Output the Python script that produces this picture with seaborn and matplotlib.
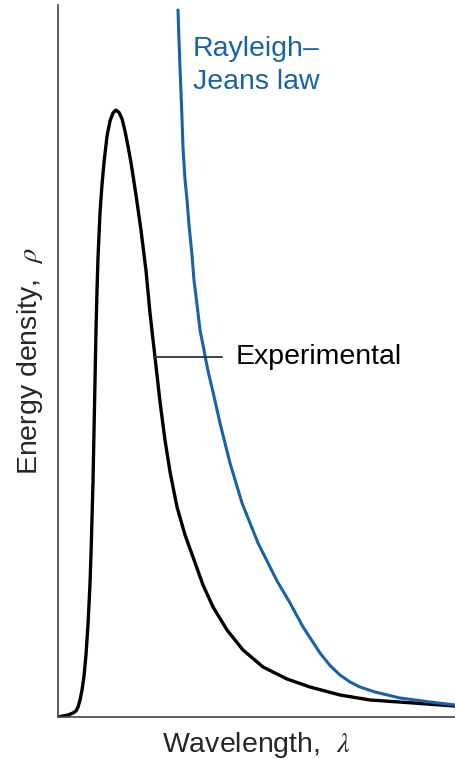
import matplotlib
matplotlib.use("Agg")
import matplotlib.pyplot as plt
import seaborn as sns
import pandas as pd

# experimental (blackbody) curve
exp_wavelength = [0.000, 0.050, 0.101, 0.151, 0.181, 0.202, 0.222, 0.242, 0.262, 0.282,
                  0.302, 0.322, 0.333, 0.343, 0.353, 0.363, 0.373, 0.383, 0.393, 0.403,
                  0.423, 0.443, 0.463, 0.494, 0.524, 0.554, 0.584, 0.615, 0.645, 0.675,
                  0.705, 0.736, 0.786, 0.836, 0.887, 0.927, 0.977, 1.028, 1.078, 1.129,
                  1.199, 1.280, 1.360, 1.461, 1.562, 1.703, 1.864, 2.066, 2.307, 2.539,
                  2.841, 3.144, 3.577, 4.000]
exp_density = [0.00, 0.14, 0.28, 0.56, 0.84, 1.40, 2.39, 3.79, 5.76, 8.71,
               12.92, 18.54, 23.03, 28.09, 33.29, 40.31, 47.33, 54.35, 59.97, 64.47,
               70.79, 74.72, 77.81, 81.60, 83.71, 84.83, 85.25, 84.90, 84.01, 82.30,
               80.20, 77.81, 73.31, 68.40, 62.64, 56.74, 50.56, 44.24, 38.90, 34.41,
               29.49, 25.56, 22.47, 18.54, 15.45, 12.22, 9.41, 7.02, 5.34, 4.21,
               3.09, 2.39, 1.97, 1.54]

# Rayleigh-Jeans prediction
rj_wavelength = [1.209, 1.219, 1.229, 1.239, 1.249, 1.259, 1.280, 1.300, 1.320, 1.350,
                 1.370, 1.401, 1.431, 1.471, 1.481, 1.521, 1.562, 1.632, 1.733, 1.854,
                 2.015, 2.207, 2.338, 2.469, 2.640, 2.741, 2.841, 2.942, 3.043,
                 3.194, 3.446, 3.748, 4.000]
rj_density = [99.30, 95.08, 91.29, 87.78, 84.27, 80.06, 75.42, 72.61, 69.10, 64.89,
              61.38, 57.87, 54.35, 51.54, 50.70, 48.03, 45.65, 41.29, 35.67, 30.06,
              24.44, 19.10, 16.01, 12.64, 8.99, 7.23, 5.90, 4.92, 4.21,
              3.51, 2.67, 2.11, 1.69]

# leader line for the "Experimental" label
leader_x = [0.97, 1.65]
leader_y = [50.6, 50.6]

blue = "#1763a8"

sns.set_style("white")
plt.rcParams["font.family"] = ["Liberation Sans", "DejaVu Sans"]
plt.rcParams["mathtext.fontset"] = "stix"

exp_df = pd.DataFrame({"wavelength": exp_wavelength, "density": exp_density})
rj_df = pd.DataFrame({"wavelength": rj_wavelength, "density": rj_density})

fig = plt.figure(figsize=(4.55, 7.59), dpi=100)
ax = fig.add_axes([58 / 455, 42 / 759, 397 / 455, 712 / 759])

sns.lineplot(data=exp_df, x="wavelength", y="density", estimator=None, sort=False,
             color="black", lw=2.4, ax=ax)
sns.lineplot(data=rj_df, x="wavelength", y="density", estimator=None, sort=False,
             color=blue, lw=2.2, ax=ax)
ax.plot(leader_x, leader_y, color="#333333", lw=1.3)

ax.text(1.79, 50.6, "Experimental", fontsize=20.5, va="center", ha="left", color="black")
ax.text(1.36, 91.5, "Rayleigh\u2013\nJeans law", fontsize=20.5, va="center", ha="left",
        color=blue, linespacing=1.35)

ax.set_xlim(0, 4)
ax.set_ylim(0, 100)
ax.set_xticks([])
ax.set_yticks([])
ax.set_xlabel("Wavelength,  $\\lambda$", fontsize=20.5, labelpad=9)
ax.set_ylabel("Energy density,  $\\rho$", fontsize=20.5, labelpad=9)

sns.despine(ax=ax)
for side in ["left", "bottom"]:
    ax.spines[side].set_color("#444444")
    ax.spines[side].set_linewidth(1.2)

fig.savefig("out.png", dpi=100)
